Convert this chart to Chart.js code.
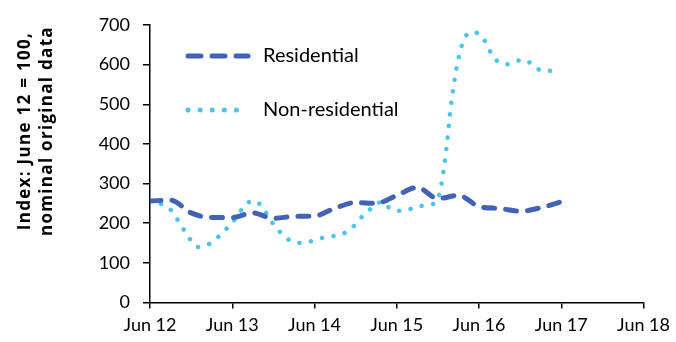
<!DOCTYPE html>
<html>
<head>
<meta charset="utf-8">
<script src="https://cdn.jsdelivr.net/npm/chart.js@4.4.0/dist/chart.umd.min.js"></script>
<style>
    html, body { margin: 0; padding: 0; background: #fff; }
    #wrap { width: 676px; height: 342px; }
</style>
</head>
<body>
<div id="wrap"><canvas id="chart"></canvas></div>
<script>
// Months since Jun 12 (0 = Jun 12, 72 = Jun 18)
const tickLabels = ['Jun 12', 'Jun 13', 'Jun 14', 'Jun 15', 'Jun 16', 'Jun 17', 'Jun 18'];
const yTitle = ['Index: June 12 = 100,', 'nominal original data'];

const resMonths = [0, 3, 6, 9, 12, 15, 18, 21, 24, 27, 30, 33, 36, 39, 42, 45, 48, 51, 54, 57, 60];
const resValues = [256, 258, 226, 214, 214, 226, 212, 217, 218, 238, 252, 250, 270, 290, 262, 270, 242, 237, 230, 239, 254];

const nonResMonths = [0, 3, 5, 7, 9, 10, 12, 14, 15, 16, 18, 20, 22, 25, 29, 31, 34, 35, 37, 39, 41, 42, 43, 44, 45, 46, 47, 48, 49, 50, 52, 54, 55, 56, 58, 60];
const nonResValues = [257, 234, 182, 140, 151, 166, 202, 247, 257, 248, 198, 161, 150, 162, 181, 217, 254, 237, 231, 242, 247, 261, 354, 510, 616, 670, 682, 677, 656, 621, 601, 611, 610, 594, 584, 591];

const resColor = '#4263B5';
const nonResColor = '#4FC4E8';

function toPoints(months, values) {
    return months.map((m, i) => ({ x: m, y: values[i] }));
}

// Legend drawn inside the plot area
const insideLegend = {
    id: 'insideLegend',
    afterDraw(chart) {
        const ctx = chart.ctx;
        const items = [
            { label: 'Residential', color: resColor, dash: [13, 11], y: 56 },
            { label: 'Non-residential', color: nonResColor, dash: [0.1, 12], y: 110 }
        ];
        ctx.save();
        items.forEach(item => {
            ctx.beginPath();
            ctx.strokeStyle = item.color;
            ctx.lineWidth = 5;
            ctx.lineCap = 'round';
            ctx.setLineDash(item.dash);
            ctx.moveTo(188, item.y);
            ctx.lineTo(248, item.y);
            ctx.stroke();
            ctx.setLineDash([]);
            ctx.fillStyle = '#000';
            ctx.font = '20px Lato';
            ctx.textBaseline = 'middle';
            ctx.fillText(item.label, 263, item.y);
        });
        ctx.restore();
    }
};

// Two-line rotated y-axis title, sitting a bit above the axis middle
const axisTitle = {
    id: 'axisTitle',
    afterDraw(chart) {
        const ctx = chart.ctx;
        ctx.save();
        ctx.translate(0, 131);
        ctx.rotate(-Math.PI / 2);
        ctx.fillStyle = '#000';
        ctx.font = 'bold 17px "Open Sans"';
        ctx.letterSpacing = '1.3px';
        ctx.textAlign = 'center';
        ctx.textBaseline = 'middle';
        ctx.fillText(yTitle[0], 0, 25);
        ctx.fillText(yTitle[1], 0, 47);
        ctx.restore();
    }
};

const axisColor = '#000';

new Chart(document.getElementById('chart'), {
    type: 'line',
    data: {
        datasets: [
            {
                label: 'Residential',
                data: toPoints(resMonths, resValues),
                borderColor: resColor,
                borderWidth: 5,
                borderDash: [11, 11],
                borderCapStyle: 'round',
                pointRadius: 0,
                cubicInterpolationMode: 'monotone',
                fill: false
            },
            {
                label: 'Non-residential',
                data: toPoints(nonResMonths, nonResValues),
                borderColor: nonResColor,
                borderWidth: 4.5,
                borderDash: [0.1, 11.5],
                borderCapStyle: 'round',
                pointRadius: 0,
                cubicInterpolationMode: 'monotone',
                fill: false
            }
        ]
    },
    options: {
        responsive: true,
        maintainAspectRatio: false,
        animation: false,
        layout: { padding: { top: 25, right: 2, bottom: 0, left: 0 } },
        plugins: {
            legend: { display: false },
            tooltip: { enabled: false }
        },
        scales: {
            x: {
                type: 'linear',
                min: 0,
                max: 72,
                ticks: {
                    stepSize: 12,
                    color: '#000',
                    font: { family: 'Lato', size: 18 },
                    padding: 6,
                    maxRotation: 0,
                    callback: v => tickLabels[v / 12]
                },
                grid: { drawOnChartArea: false, drawTicks: true, tickLength: 6, color: axisColor, lineWidth: 1.5 },
                border: { color: axisColor, width: 1.5 }
            },
            y: {
                min: 0,
                max: 700,
                ticks: {
                    stepSize: 100,
                    color: '#000',
                    font: { family: 'Lato', size: 18 },
                    padding: 13
                },
                grid: { drawOnChartArea: false, drawTicks: true, tickLength: 7, color: axisColor, lineWidth: 1.5 },
                border: { color: axisColor, width: 1.5 },
                afterFit: scale => { scale.width = 150; }
            }
        }
    },
    plugins: [insideLegend, axisTitle]
});
</script>
</body>
</html>
